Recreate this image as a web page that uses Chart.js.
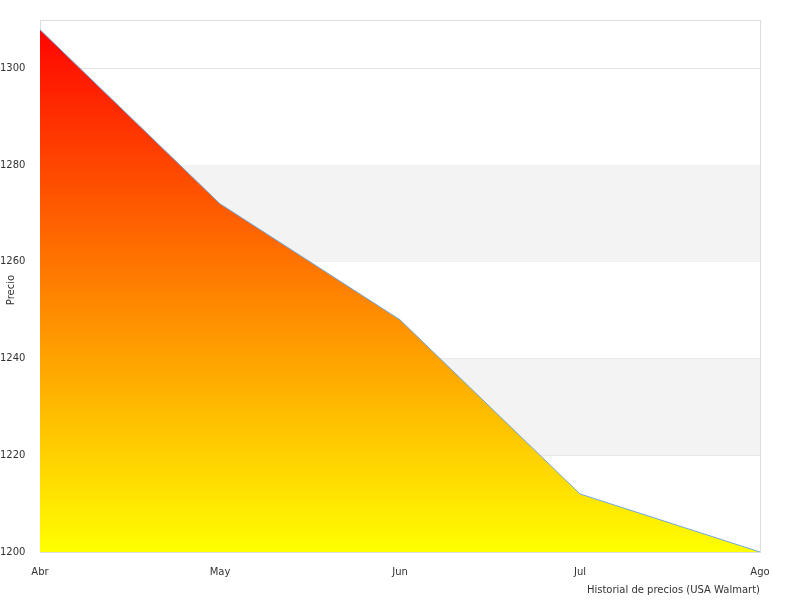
<!DOCTYPE html>
<html>
<head>
<meta charset="utf-8">
<script src="https://cdn.jsdelivr.net/npm/chart.js@4"></script>
<style>
  body { margin: 0; background: #fff; }
</style>
</head>
<body>
<canvas id="priceChart" width="800" height="600"></canvas>
<script>
var months = ['Abr', 'May', 'Jun', 'Jul', 'Ago'];
var prices = [1308, 1272, 1248, 1212, 1200];
var bandRanges = [[1220, 1240], [1260, 1280]];

// bandas grises alternas y título del eje Y
var bandsPlugin = {
    id: 'bands',
    beforeDatasetsDraw: function(chart) {
        var c = chart.ctx, a = chart.chartArea, y = chart.scales.y;
        c.save();
        c.fillStyle = '#f3f3f3';
        bandRanges.forEach(function(r) {
            var top = y.getPixelForValue(r[1]), bot = y.getPixelForValue(r[0]);
            c.fillRect(a.left, top, a.right - a.left, bot - top);
        });
        c.strokeStyle = '#ddd';
        c.lineWidth = 1;
        c.strokeRect(a.left + 0.5, a.top + 0.5, a.right - a.left, a.bottom - a.top);
        c.restore();
    },
    afterDraw: function(chart) {
        var c = chart.ctx;
        c.save();
        c.translate(14, 290);
        c.rotate(-Math.PI / 2);
        c.fillStyle = '#333';
        c.font = '10px "DejaVu Sans"';
        c.textAlign = 'center';
        c.fillText('Precio', 0, 0);
        c.restore();
    }
};

var ctx = document.getElementById('priceChart').getContext('2d');
var priceChart = new Chart(ctx, {
    type: 'line',
    data: {
        labels: months,
        datasets: [{
            data: prices,
            borderColor: '#6fa8dc',
            borderWidth: 1,
            pointRadius: 0,
            tension: 0,
            fill: 'origin',
            backgroundColor: function(context) {
                var area = context.chart.chartArea;
                if (!area) return '#ff8800';
                var g = context.chart.ctx.createLinearGradient(0, area.top, 0, area.bottom);
                g.addColorStop(0, '#ff0000');
                g.addColorStop(1, '#ffff00');
                return g;
            }
        }]
    },
    options: {
        responsive: false,
        animation: false,
        layout: { padding: { top: 20, right: 40, left: 0, bottom: 4 } },
        plugins: { legend: { display: false }, tooltip: { enabled: false } },
        scales: {
            x: {
                offset: false,
                grid: { display: false },
                border: { color: '#ddd' },
                ticks: { color: '#333', padding: 6, font: { family: 'DejaVu Sans', size: 10 }, maxRotation: 0 },
                title: { display: true, text: 'Historial de precios (USA Walmart)', align: 'end', color: '#333', font: { family: 'DejaVu Sans', size: 10 }, padding: 0 }
            },
            y: {
                min: 1200, max: 1310,
                afterBuildTicks: function(s) { s.ticks = [1200,1220,1240,1260,1280,1300].map(function(v){ return {value: v}; }); },
                afterFit: function(s) { s.width = 40; },
                grid: { color: '#e4e4e4', drawTicks: false },
                border: { color: '#ddd' },
                ticks: {
                    color: '#333', padding: 6, crossAlign: 'far',
                    font: { family: 'DejaVu Sans', size: 10 },
                    callback: function(v) { return String(v); }
                }
            }
        }
    },
    plugins: [bandsPlugin]
});
</script>
</body>
</html>
